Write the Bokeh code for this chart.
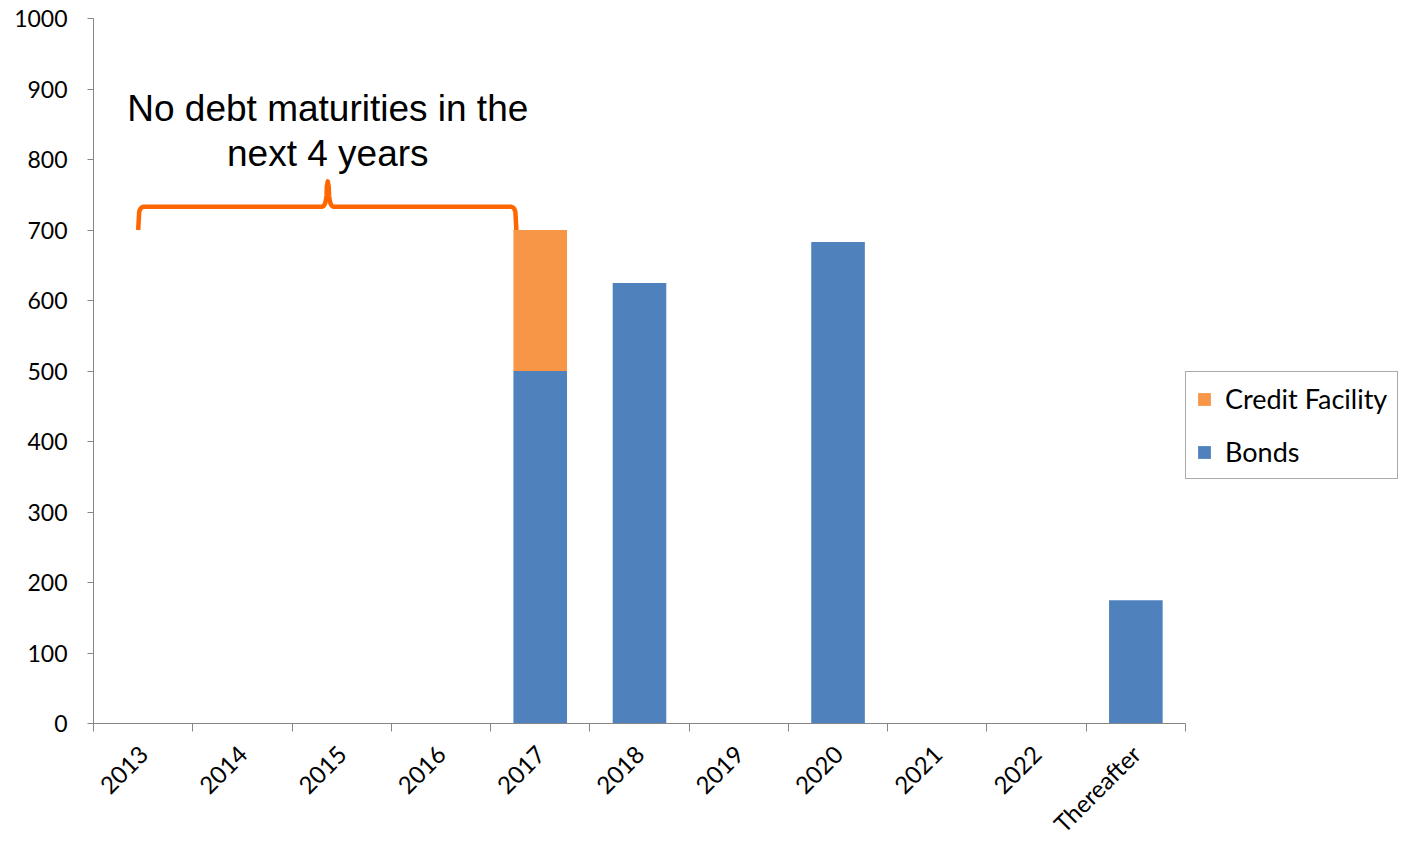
import math
from bokeh.plotting import figure
from bokeh.models import Range1d, FixedTicker, Legend, LegendItem, ColumnDataSource
from bokeh.core.properties import value
from bokeh.embed import file_html
from bokeh.resources import INLINE

categories = ["2013", "2014", "2015", "2016", "2017", "2018", "2019", "2020", "2021", "2022", "Thereafter"]
bonds = [0, 0, 0, 0, 500, 625, 0, 683, 0, 0, 175]
credit_facility = [0, 0, 0, 0, 200, 0, 0, 0, 0, 0, 0]
y_ticks = [0, 100, 200, 300, 400, 500, 600, 700, 800, 900, 1000]

annotation_lines = ["No debt maturities in the", "next 4 years"]
# brace annotation (data coordinates): left end, middle peak, right end
brace_x_left, brace_x_mid, brace_x_right = 0.45, 2.36, 4.26
brace_y_base, brace_y_bar, brace_y_peak = 700, 733, 769

BLUE = "#4F81BD"
ORANGE = "#F79646"
BRACE = "#FF6600"
AXIS = "#868686"

W, H = 1402, 851
LEFT, TOP, BOTTOM = 93, 18, 128
AXIS_PX = 1092  # pixel length of the category axis
n = len(categories)
frame_w = W - LEFT
x_end = n * frame_w / AXIS_PX

p = figure(width=W, height=H, output_backend="svg", toolbar_location=None,
           x_range=Range1d(0, x_end), y_range=Range1d(0, 1000),
           min_border_left=LEFT, min_border_right=0, min_border_top=TOP, min_border_bottom=BOTTOM)
p.outline_line_color = None
p.xgrid.visible = False
p.ygrid.visible = False
p.background_fill_color = "white"

xs = [i + 0.5 for i in range(n)]
src = ColumnDataSource(dict(x=xs, bonds=bonds, credit=credit_facility))
r = p.vbar_stack(["bonds", "credit"], x="x", width=0.54, source=src,
                 color=[BLUE, ORANGE], line_color=None)

# axes
p.xaxis.bounds = (0, n)
p.xaxis.ticker = FixedTicker(ticks=xs, minor_ticks=list(range(n + 1)))
p.xaxis.major_label_overrides = {x: c for x, c in zip(xs, categories)}
p.xaxis.major_tick_line_color = None
p.xaxis.minor_tick_in = 0
p.xaxis.minor_tick_out = 8
p.xaxis.minor_tick_line_color = AXIS
p.xaxis.axis_line_color = AXIS
p.xaxis.major_label_orientation = math.pi / 4
p.xaxis.major_label_text_font = "Lato"
p.xaxis.major_label_text_font_size = "24px"
p.xaxis.major_label_text_color = "black"
p.xaxis.major_label_standoff = 18

p.yaxis.ticker = FixedTicker(ticks=y_ticks, minor_ticks=[])
p.yaxis.major_tick_in = 0
p.yaxis.major_tick_out = 6
p.yaxis.major_tick_line_color = AXIS
p.yaxis.axis_line_color = AXIS
p.yaxis.major_label_text_font = "Lato"
p.yaxis.major_label_text_font_size = "23px"
p.yaxis.major_label_text_color = "black"
p.yaxis.major_label_standoff = 20

# brace
def qcurve(p0, p1, p2, k_n=8):
    pts = []
    for k in range(k_n + 1):
        t = k / k_n
        x = (1 - t) ** 2 * p0[0] + 2 * (1 - t) * t * p1[0] + t ** 2 * p2[0]
        y = (1 - t) ** 2 * p0[1] + 2 * (1 - t) * t * p1[1] + t ** 2 * p2[1]
        pts.append((x, y))
    return pts

dx = 0.06
pts = [(brace_x_left, brace_y_base), (brace_x_left + 0.01, brace_y_bar - 8)]
pts += qcurve((brace_x_left + 0.01, brace_y_bar - 8), (brace_x_left + 0.02, brace_y_bar), (brace_x_left + dx, brace_y_bar))
pts += [(brace_x_mid - dx, brace_y_bar)]
pts += qcurve((brace_x_mid - dx, brace_y_bar), (brace_x_mid - 0.01, brace_y_bar), (brace_x_mid - 0.01, brace_y_peak - 8))
pts += [(brace_x_mid, brace_y_peak), (brace_x_mid + 0.01, brace_y_peak - 8)]
pts += qcurve((brace_x_mid + 0.01, brace_y_peak - 8), (brace_x_mid + 0.01, brace_y_bar), (brace_x_mid + dx, brace_y_bar))
pts += [(brace_x_right - dx, brace_y_bar)]
pts += qcurve((brace_x_right - dx, brace_y_bar), (brace_x_right - 0.02, brace_y_bar), (brace_x_right - 0.01, brace_y_bar - 8))
pts += [(brace_x_right, brace_y_base)]
p.line([a for a, b in pts], [b for a, b in pts], line_color=BRACE, line_width=4.5, line_join="round", line_cap="butt")

p.text(x=[brace_x_mid, brace_x_mid], y=[872, 808], text=annotation_lines,
       text_font=value("Liberation Sans"), text_font_size="37px", text_color="black",
       text_align="center", text_baseline="middle")

legend = Legend(items=[LegendItem(label="Credit Facility", renderers=[r[1]]),
                       LegendItem(label="Bonds", renderers=[r[0]])],
                location=(AXIS_PX, 244), orientation="vertical")
legend.border_line_color = "#555555"
legend.border_line_width = 1.5
legend.label_text_font = "Lato"
legend.label_text_font_size = "27px"
legend.label_text_color = "black"
legend.glyph_width = 16
legend.glyph_height = 16
legend.label_height = 22
legend.spacing = 20
legend.padding = 10
legend.margin = 0
legend.label_standoff = 13
legend.background_fill_alpha = 1
p.add_layout(legend, "center")

open("out.html", "w").write(file_html(p, INLINE))
